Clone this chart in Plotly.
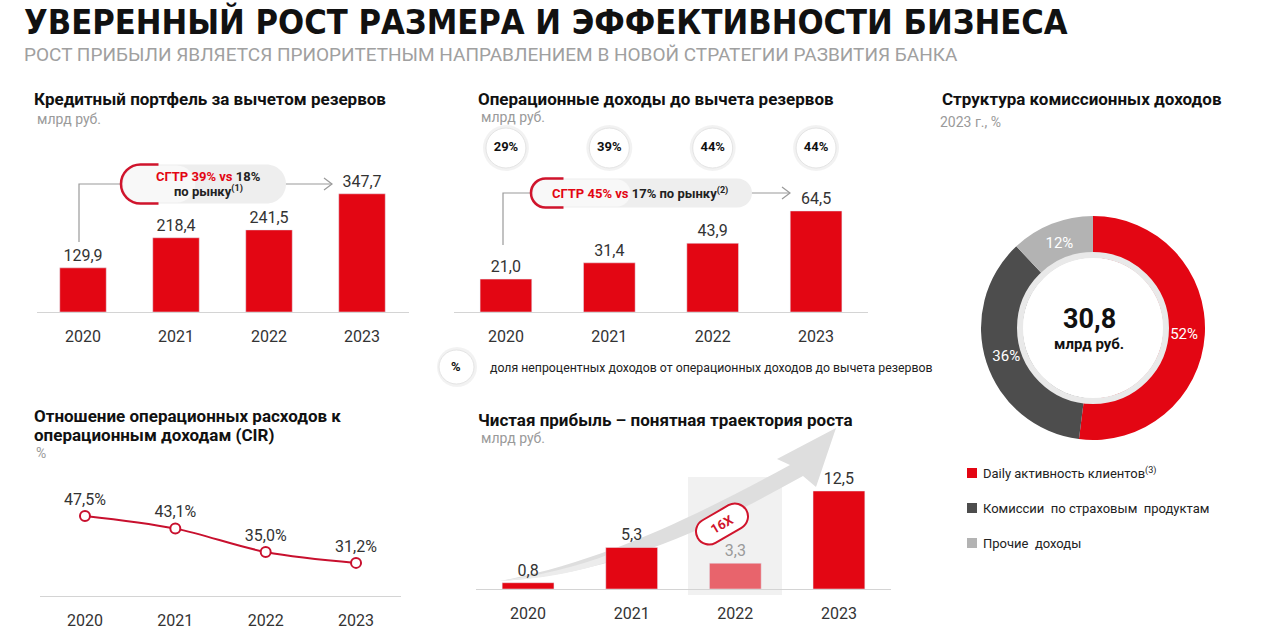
import math
import plotly.graph_objects as go

# ---------------- data ----------------
years = ["2020", "2021", "2022", "2023"]
loan_portfolio = [129.9, 218.4, 241.5, 347.7]
op_income = [21.0, 31.4, 43.9, 64.5]
nonint_share = [29, 39, 44, 44]
net_profit = [0.8, 5.3, 3.3, 12.5]
cir = [47.5, 43.1, 35.0, 31.2]
fee_labels = ["Daily активность клиентов<sup>(3)</sup>", "Комиссии  по страховым  продуктам", "Прочие  доходы"]
fee_values = [52, 36, 12]
fee_total = "30,8"

RED = "#e30613"
RED_LIGHT = "#e8646c"
DARK = "#4d4d4d"
LIGHT = "#b3b3b3"
TXT = "#333333"
GRAY_TXT = "#9a9a9a"
FONT = "Roboto"

W, H = 1280, 638
def px(x): return x / W
def py(y): return 1 - y / H
def P(x, y): return f"{px(x):.5f},{py(y):.5f}"

def fmt(v, d=1): return f"{v:.{d}f}".replace(".", ",")

fig = go.Figure()

fig.add_trace(go.Bar(x=years, y=loan_portfolio, marker_color=RED, width=0.5,
                     text=[fmt(v) for v in loan_portfolio], textposition="outside",
                     textfont=dict(size=16, color=TXT, family=FONT), cliponaxis=False,
                     xaxis="x", yaxis="y", hoverinfo="skip"))
fig.add_trace(go.Bar(x=years, y=op_income, marker_color=RED, width=0.5,
                     text=[fmt(v) for v in op_income], textposition="outside",
                     textfont=dict(size=16, color=TXT, family=FONT), cliponaxis=False,
                     xaxis="x2", yaxis="y2", hoverinfo="skip"))
circle_y = 104.7
fig.add_trace(go.Scatter(x=years, y=[circle_y] * 4, mode="markers",
                         marker=dict(size=46, color="rgba(0,0,0,0.05)", line=dict(width=0)),
                         xaxis="x2", yaxis="y2", hoverinfo="skip", cliponaxis=False))
fig.add_trace(go.Scatter(x=years, y=[circle_y] * 4, mode="markers+text",
                         marker=dict(size=40, color="white", line=dict(width=1, color="#e4e4e4")),
                         text=[f"<b>{v}%</b>" for v in nonint_share], textposition="middle center",
                         textfont=dict(size=13, color="#111", family=FONT),
                         xaxis="x2", yaxis="y2", hoverinfo="skip", cliponaxis=False))
fig.add_trace(go.Bar(x=years, y=net_profit, marker_color=[RED, RED, RED_LIGHT, RED], width=0.5,
                     text=[fmt(v) for v in net_profit], textposition="outside",
                     textfont=dict(size=16, color=[TXT, TXT, GRAY_TXT, TXT], family=FONT), cliponaxis=False,
                     xaxis="x3", yaxis="y3", hoverinfo="skip"))
fig.add_trace(go.Scatter(x=years, y=cir, mode="lines+markers+text",
                         line=dict(color="#c8102e", width=2, shape="spline"),
                         marker=dict(size=10, color="white", line=dict(color="#c8102e", width=2)),
                         text=[fmt(v) + "%" for v in cir], textposition="top center",
                         textfont=dict(size=16, color=TXT, family=FONT), cliponaxis=False,
                         xaxis="x4", yaxis="y4", hoverinfo="skip"))
fig.add_trace(go.Pie(labels=fee_labels, values=fee_values, hole=0.63, sort=False,
                     direction="clockwise", rotation=0,
                     marker=dict(colors=[RED, DARK, LIGHT], line=dict(width=0)),
                     texttemplate="%{value}%", textposition="inside", insidetextorientation="horizontal",
                     textfont=dict(size=15, color="white", family=FONT),
                     domain=dict(x=[px(979), px(1207)], y=[py(440), py(216)]),
                     showlegend=False, hoverinfo="skip"))

def xax(d0, d1, anchor):
    return dict(domain=[px(d0), px(d1)], anchor=anchor, type="category", range=[-0.5, 3.5],
                showgrid=False, zeroline=False, showline=True, linecolor="#d4d4d4", linewidth=1,
                ticks="", tickfont=dict(size=16, color=TXT, family=FONT), ticklabelstandoff=10,
                fixedrange=True)
def yax(b, t, r, anchor):
    return dict(domain=[py(b), py(t)], anchor=anchor, range=r, visible=False, fixedrange=True)

fig.update_layout(
    width=W, height=H, margin=dict(l=0, r=0, t=0, b=0),
    paper_bgcolor="white", plot_bgcolor="rgba(0,0,0,0)", showlegend=False,
    font=dict(family=FONT, color=TXT),
    xaxis=xax(36.5, 408.5, "y"), yaxis=yax(312, 150, [0, 476.5], "x"),
    xaxis2=xax(454.25, 867.75, "y2"), yaxis2=yax(312, 125, [0, 119.4], "x2"),
    xaxis3=xax(476.25, 890.75, "y3"), yaxis3=yax(589, 470, [0, 15.18], "x3"),
    xaxis4=xax(39.8, 401.2, "y4"), yaxis4=yax(596, 470, [19.7, 63.45], "x4"),
    bargap=0.5,
)

shapes = []
ann = []

def text(x, y, s, size, color=TXT, bold=False, anchor="left", family=FONT, **fkw):
    if bold:
        s = f"<b>{s}</b>"
    ann.append(dict(x=px(x), y=py(y), xref="paper", yref="paper", text=s, showarrow=False,
                    xanchor=anchor, yanchor="middle", font=dict(size=size, color=color, family=family, **fkw)))

def pill_path(x0, x1, yc, h):
    r = h / 2; k = 0.5523
    return ("M" + P(x0 + r, yc - r) + " L" + P(x1 - r, yc - r) +
            " C" + P(x1 - r + k * r, yc - r) + " " + P(x1, yc - k * r) + " " + P(x1, yc) +
            " C" + P(x1, yc + k * r) + " " + P(x1 - r + k * r, yc + r) + " " + P(x1 - r, yc + r) +
            " L" + P(x0 + r, yc + r) +
            " C" + P(x0 + r - k * r, yc + r) + " " + P(x0, yc + k * r) + " " + P(x0, yc) +
            " C" + P(x0, yc - k * r) + " " + P(x0 + r - k * r, yc - r) + " " + P(x0 + r, yc - r) + " Z")

def left_arc(x0, yc, h, ext=18):
    r = h / 2; k = 0.5523
    return ("M" + P(x0 + r + ext, yc - r) + " L" + P(x0 + r, yc - r) +
            " C" + P(x0 + r - k * r, yc - r) + " " + P(x0, yc - k * r) + " " + P(x0, yc) +
            " C" + P(x0, yc + k * r) + " " + P(x0 + r - k * r, yc + r) + " " + P(x0 + r, yc + r) +
            " L" + P(x0 + r + ext, yc + r))

def cagr_callout(xv, ytop_v, yc, tip, x0, x1, h):
    shapes.append(dict(type="path", xref="paper", yref="paper",
                       path="M" + P(xv, ytop_v) + " L" + P(xv, yc) + " L" + P(tip, yc),
                       line=dict(color="#9a9a9a", width=1.2)))
    shapes.append(dict(type="path", xref="paper", yref="paper",
                       path="M" + P(tip - 8, yc - 6) + " L" + P(tip, yc) + " L" + P(tip - 8, yc + 6),
                       line=dict(color="#9a9a9a", width=1.2)))
    shapes.append(dict(type="path", xref="paper", yref="paper", path=pill_path(x0, x1, yc, h),
                       fillcolor="#eeeeee", line=dict(width=0)))
    shapes.append(dict(type="path", xref="paper", yref="paper", path=pill_path(x0 + 2, x0 + (x1 - x0) * 0.45, yc, h - 2),
                       fillcolor="#f8f8f8", line=dict(width=0)))
    shapes.append(dict(type="path", xref="paper", yref="paper", path=left_arc(x0, yc, h),
                       line=dict(color="#d0142c", width=2.5)))

cagr_callout(79, 242, 184, 332, 121, 286, 39)
text(208, 176, f"<span style='color:{RED}'>СГТР 39% vs</span> 18%", 13, color="#222", bold=True, anchor="center")
text(208, 191, "по рынку<sup>(1)</sup>", 13, color="#222", bold=True, anchor="center")

cagr_callout(503, 245, 193, 790, 531, 752, 29)
text(640, 193, f"<span style='color:{RED}'>СГТР 45% vs</span> 17% по рынку<sup>(2)</sup>", 13, color="#222", bold=True, anchor="center")

shapes.append(dict(type="circle", xref="paper", yref="paper", x0=px(437), x1=px(477), y0=py(387), y1=py(347),
                   fillcolor="rgba(0,0,0,0.05)", line=dict(width=0)))
shapes.append(dict(type="circle", xref="paper", yref="paper", x0=px(439), x1=px(474), y0=py(384), y1=py(350),
                   fillcolor="white", line=dict(color="#e4e4e4", width=1)))
text(456, 367, "%", 13, color="#111", bold=True, anchor="center")
text(488, 368, "доля непроцентных доходов от операционных доходов до вычета резервов", 12.3, color="#222")

shapes.append(dict(type="rect", xref="paper", yref="paper", layer="below",
                   x0=px(688), x1=px(782), y0=py(595), y1=py(477), fillcolor="#f1f1f1", line=dict(width=0)))
arrow = ("M" + P(500, 581) + " C" + P(620, 574) + " " + P(720, 522) + " " + P(803, 476) +
         " L" + P(816, 487) + " L" + P(836, 428) + " L" + P(777, 459) + " L" + P(790, 465) +
         " C" + P(710, 508) + " " + P(612, 560) + " " + P(500, 581) + " Z")
shapes.append(dict(type="path", xref="paper", yref="paper", layer="below", path=arrow,
                   fillcolor="#dedede", line=dict(width=0)))
tail = ("M" + P(500, 581) + " C" + P(560, 578) + " " + P(600, 566) + " " + P(630, 553) +
        " L" + P(622, 549) + " C" + P(590, 563) + " " + P(550, 574) + " " + P(500, 581) + " Z")
shapes.append(dict(type="path", xref="paper", yref="paper", layer="below", path=tail,
                   fillcolor="#ececec", line=dict(width=0)))

def rot_pill(cx, cy, hw, hh, ang):
    a = math.radians(ang); ca, sa = math.cos(a), math.sin(a)
    r = hh; k = 0.5523
    local = [("M", [(-hw + r, -r)]), ("L", [(hw - r, -r)]),
             ("C", [(hw - r + k * r, -r), (hw, -k * r), (hw, 0)]),
             ("C", [(hw, k * r), (hw - r + k * r, r), (hw - r, r)]),
             ("L", [(-hw + r, r)]),
             ("C", [(-hw + r - k * r, r), (-hw, k * r), (-hw, 0)]),
             ("C", [(-hw, -k * r), (-hw + r - k * r, -r), (-hw + r, -r)])]
    s = ""
    for cmd, ps in local:
        s += cmd + " ".join(P(cx + x * ca - y * sa, cy + x * sa + y * ca) for x, y in ps) + " "
    return s + "Z"
shapes.append(dict(type="path", xref="paper", yref="paper", path=rot_pill(722, 524, 28, 13, -30),
                   fillcolor="white", line=dict(color="#d0142c", width=2)))
ann.append(dict(x=px(722), y=py(524), xref="paper", yref="paper", text="<b>16X</b>", showarrow=False,
                xanchor="center", yanchor="middle",
                textangle=-30, font=dict(size=13, color="#d0142c", family=FONT)))

shapes.append(dict(type="circle", xref="paper", yref="paper", x0=px(1093 - 73), x1=px(1093 + 73),
                   y0=py(328 + 73), y1=py(328 - 73), line=dict(color="#e9e9e9", width=6), fillcolor="rgba(0,0,0,0)"))
text(1089, 319, fee_total, 27, color="#111", bold=True, anchor="center")
text(1089, 344, "млрд руб.", 15, color="#111", bold=True, anchor="center")
leg_colors = [RED, DARK, LIGHT]
leg_y = [473, 508, 543]
for lab, c, yy in zip(fee_labels, leg_colors, leg_y):
    shapes.append(dict(type="rect", xref="paper", yref="paper", x0=px(967), x1=px(977), y0=py(yy + 5), y1=py(yy - 5),
                       fillcolor=c, line=dict(width=0)))
    text(981, yy, lab, 13, color="#222")

text(22, 22, "УВЕРЕННЫЙ РОСТ РАЗМЕРА И ЭФФЕКТИВНОСТИ БИЗНЕСА", 34.2, color="#111", bold=True,
     family="DejaVu Sans Condensed, DejaVu Sans")
text(22, 54, "РОСТ ПРИБЫЛИ ЯВЛЯЕТСЯ ПРИОРИТЕТНЫМ НАПРАВЛЕНИЕМ В НОВОЙ СТРАТЕГИИ РАЗВИТИЯ БАНКА", 19, color="#a0a0a0",
     family=FONT)

TS = 17
text(32, 99, "Кредитный портфель за вычетом резервов", TS, color="#111", bold=True)
text(35, 119, "млрд руб.", 14, color=GRAY_TXT)
text(476, 99, "Операционные доходы до вычета резервов", TS, color="#111", bold=True)
text(479, 117, "млрд руб.", 14, color=GRAY_TXT)
text(940, 99, "Структура комиссионных доходов", TS, color="#111", bold=True)
text(938, 122, "2023 г., %", 14, color=GRAY_TXT)
text(32, 416, "Отношение операционных расходов к", TS, color="#111", bold=True)
text(32, 435, "операционным доходам (CIR)", TS, color="#111", bold=True)
text(34, 453, "%", 14, color=GRAY_TXT)
text(476, 420, "Чистая прибыль – понятная траектория роста", TS, color="#111", bold=True)
text(479, 438, "млрд руб.", 14, color=GRAY_TXT)

fig.update_layout(shapes=shapes, annotations=ann)
fig.write_html("out.html", config={"displayModeBar": False},
               post_script="document.body.style.margin='0';document.body.style.padding='0';")
